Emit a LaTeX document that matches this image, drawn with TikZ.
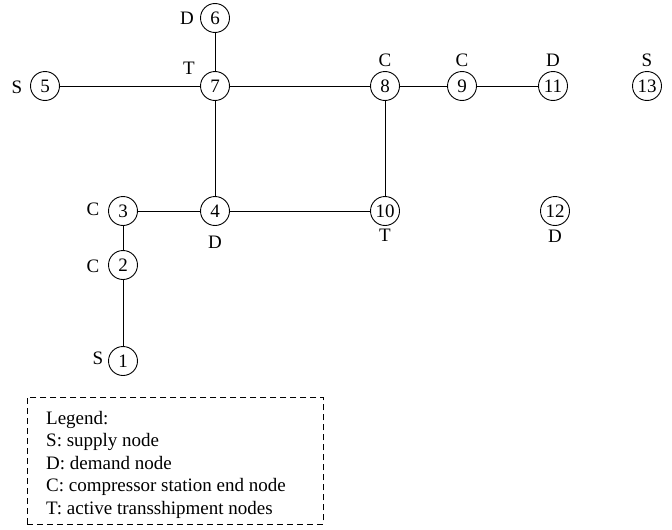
\documentclass[tikz,border=0pt]{standalone}
\usepackage{fontspec}
\setmainfont{Liberation Serif}
\begin{document}
\begin{tikzpicture}[x=1pt,y=-1pt,
  every node/.style={font=\fontsize{19}{22.5}\selectfont},
  nd/.style={draw,circle,line width=0.9pt,minimum size=29pt,inner sep=0pt},
  lbl/.style={inner sep=0pt},
  edge/.style={line width=0.9pt},
  legendbox/.style={draw,line width=0.9pt,dash pattern=on 6pt off 4pt,anchor=north west,minimum width=296pt,minimum height=127pt}]
\useasboundingbox (0,0) rectangle (672,530);
% nodes
\node[nd] (n1) at (123,361) {1};
\node[nd] (n2) at (123,265) {2};
\node[nd] (n3) at (123,211) {3};
\node[nd] (n4) at (215,211) {4};
\node[nd] (n5) at (45,86) {5};
\node[nd] (n6) at (215,18) {6};
\node[nd] (n7) at (215,86) {7};
\node[nd] (n8) at (385,86) {8};
\node[nd] (n9) at (462,86) {9};
\node[nd] (n10) at (385,211) {10};
\node[nd] (n11) at (553,86) {11};
\node[nd] (n12) at (555,211) {12};
\node[nd] (n13) at (647,86) {13};
% type labels
\node[lbl] (l1) at (98,358) {S};
\node[lbl] (l2) at (93,266) {C};
\node[lbl] (l3) at (93,209) {C};
\node[lbl] (l4) at (215,242) {D};
\node[lbl] (l5) at (17,87) {S};
\node[lbl] (l6) at (187,18) {D};
\node[lbl] (l7) at (189,68) {T};
\node[lbl] (l8) at (385,60) {C};
\node[lbl] (l9) at (462,60) {C};
\node[lbl] (l10) at (385,235) {T};
\node[lbl] (l11) at (553,60) {D};
\node[lbl] (l12) at (555,236) {D};
\node[lbl] (l13) at (647,60) {S};
% edges
\draw[edge] (n6) -- (n7);
\draw[edge] (n5) -- (n7);
\draw[edge] (n7) -- (n8);
\draw[edge] (n8) -- (n9);
\draw[edge] (n9) -- (n11);
\draw[edge] (n7) -- (n4);
\draw[edge] (n3) -- (n4);
\draw[edge] (n4) -- (n10);
\draw[edge] (n8) -- (n10);
\draw[edge] (n3) -- (n2);
\draw[edge] (n2) -- (n1);
% legend
\node[legendbox] (legend) at (27,397) {};
\node[lbl,anchor=north west,align=left] (legendtext) at (46,411) {Legend:\\S: supply node\\D: demand node\\C: compressor station end node\\T: active transshipment nodes};
\end{tikzpicture}
\end{document}
